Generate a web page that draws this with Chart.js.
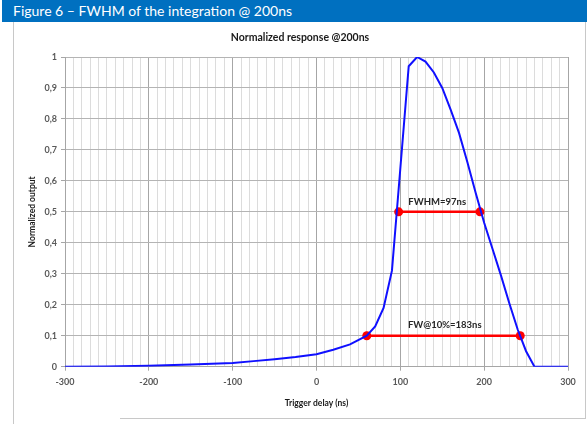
<!DOCTYPE html>
<html>
<head>
<meta charset="utf-8">
<script src="https://cdn.jsdelivr.net/npm/chart.js@4.4.0/dist/chart.umd.min.js"></script>
<style>
  body { margin: 0; background: #fff; }
  #wrap { position: relative; width: 587px; height: 424px; overflow: hidden; }
  #head { position: absolute; left: 2px; top: 0; width: 585px; height: 22px; background: #0070c0;
          color: #fff; font: 14px Lato, sans-serif; line-height: 22px; padding-left: 11px; box-sizing: border-box; }
  .ln { position: absolute; background: #c8c8c8; }
  canvas { position: absolute; left: 0; top: 0; }
</style>
</head>
<body>
<div id="wrap">
  <div id="head">Figure 6 – FWHM of the integration @ 200ns</div>
  <div class="ln" style="left:13px;top:22px;width:1px;height:402px"></div>
  <div class="ln" style="left:585px;top:22px;width:1px;height:397px"></div>
  <div class="ln" style="left:120px;top:418px;width:466px;height:1px"></div>
  <canvas id="fwhmChart" width="587" height="424"></canvas>
</div>
<script>
// data
const delayNs  = [-300, -250, -200, -150, -100, -75, -50, -25, 0, 20, 40, 60, 70, 80, 90, 100, 110, 120, 130, 140, 150, 160, 170, 180, 190, 200, 210, 220, 230, 240, 250, 260, 300];
const response = [0, 0.001, 0.003, 0.007, 0.012, 0.018, 0.024, 0.031, 0.04, 0.055, 0.072, 0.10, 0.13, 0.19, 0.31, 0.64, 0.97, 1.0, 0.985, 0.95, 0.9, 0.83, 0.755, 0.66, 0.56, 0.465, 0.38, 0.295, 0.205, 0.12, 0.05, 0, 0];

const fwhmX = [98, 195];
const fwhmY = [0.5, 0.5];
const fw10X = [60, 243];
const fw10Y = [0.1, 0.1];

const markLabels = ['FWHM=97ns', 'FW@10%=183ns'];
const markLabelX = [144, 153];
const markLabelY = [0.531, 0.134];

const xTicks = [-300, -200, -100, 0, 100, 200, 300];

function pts(xs, ys) {
    return xs.map((x, i) => ({ x: x, y: ys[i] }));
}

// chart title and the two labels on the red lines
const textPlugin = {
    id: 'textPlugin',
    afterDatasetsDraw(chart) {
        const ctx = chart.ctx;
        const xs = chart.scales.x, ys = chart.scales.y;
        ctx.save();
        ctx.textAlign = 'center';
        ctx.textBaseline = 'middle';
        ctx.fillStyle = '#1a1a1a';
        ctx.font = 'bold 10.5px Lato, sans-serif';
        ctx.fillText('Normalized response @200ns', 300, 38);
        ctx.fillStyle = '#262626';
        ctx.font = 'bold 9.5px Lato, sans-serif';
        markLabels.forEach((t, i) => {
            ctx.fillText(t, xs.getPixelForValue(markLabelX[i]), ys.getPixelForValue(markLabelY[i]));
        });
        ctx.restore();
    }
};

const tickFont = { family: 'Lato, sans-serif', size: 9, weight: 'bold' };
const titleFont = { family: 'Lato, sans-serif', size: 8.5, weight: 'bold' };

new Chart(document.getElementById('fwhmChart').getContext('2d'), {
    type: 'scatter',
    data: {
        datasets: [
            {
                data: pts(delayNs, response),
                showLine: true,
                borderColor: '#1010ff',
                borderWidth: 2,
                pointRadius: 0,
                tension: 0
            },
            {
                data: pts(fwhmX, fwhmY),
                showLine: true,
                borderColor: '#ff0000',
                backgroundColor: '#ff0000',
                borderWidth: 2.5,
                pointRadius: 4.5,
                pointBorderWidth: 0
            },
            {
                data: pts(fw10X, fw10Y),
                showLine: true,
                borderColor: '#ff0000',
                backgroundColor: '#ff0000',
                borderWidth: 2.5,
                pointRadius: 4.5,
                pointBorderWidth: 0
            }
        ]
    },
    options: {
        responsive: false,
        animation: false,
        layout: { padding: { left: 14, right: 19, top: 57, bottom: 10 } },
        plugins: {
            legend: { display: false },
            tooltip: { enabled: false }
        },
        scales: {
            x: {
                type: 'linear',
                min: -300,
                max: 300,
                afterFit: s => { s.height = 47.3; },
                afterBuildTicks: s => {
                    s.ticks = [];
                    for (let v = -300; v <= 300; v += 10) s.ticks.push({ value: v });
                },
                ticks: {
                    autoSkip: false,
                    maxRotation: 0,
                    padding: 6,
                    color: '#595959',
                    font: tickFont,
                    callback: v => xTicks.includes(v) ? String(v) : ''
                },
                grid: {
                    color: c => (c.tick && c.tick.value % 100 === 0) ? '#a6a6a6' : '#dcdcdc',
                    tickColor: c => (c.tick && c.tick.value % 100 === 0) ? '#a6a6a6' : 'rgba(0,0,0,0)',
                    tickLength: 4,
                    lineWidth: 1
                },
                border: { color: '#a6a6a6' },
                title: {
                    display: true,
                    text: 'Trigger delay (ns)',
                    color: '#1a1a1a',
                    font: titleFont,
                    padding: { top: 4, bottom: 6 }
                }
            },
            y: {
                min: 0,
                max: 1,
                afterFit: s => { s.width = 51; },
                ticks: {
                    stepSize: 0.1,
                    padding: 4,
                    color: '#595959',
                    font: tickFont,
                    callback: v => {
                        const r = Math.round(v * 10) / 10;
                        return (r === 0 || r === 1) ? String(r) : r.toFixed(1).replace('.', ',');
                    }
                },
                grid: { color: '#b4b4b4', tickColor: '#a6a6a6', tickLength: 4 },
                border: { color: '#a6a6a6' },
                title: {
                    display: true,
                    text: 'Normalized output',
                    color: '#1a1a1a',
                    font: titleFont,
                    padding: { top: 13, bottom: 4 }
                }
            }
        }
    },
    plugins: [textPlugin]
});
</script>
</body>
</html>
